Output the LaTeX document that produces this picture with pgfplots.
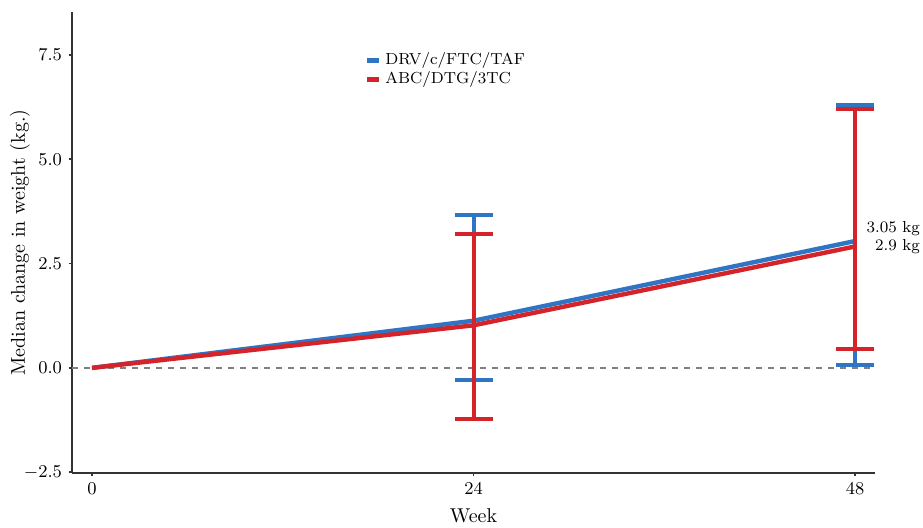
\documentclass[border=0pt]{standalone}
\usepackage{pgfplots}
\pgfplotsset{compat=1.18}
\definecolor{cblue}{RGB}{47,117,196}
\definecolor{cred}{RGB}{212,36,42}
\begin{document}
\begin{tikzpicture}
\begin{axis}[
  scale only axis,
  width=401.5pt, height=230.5pt,
  xmin=-1.26, xmax=49.25,
  ymin=-2.52, ymax=8.53,
  axis lines*=left,
  axis line style={black!80, line width=0.8pt},
  xtick={0,24,48},
  ytick={-2.5,0,2.5,5,7.5},
  yticklabels={$-2.5$,$0.0$,$2.5$,$5.0$,$7.5$},
  tick align=outside,
  major tick length=1.5pt,
  tick style={black!80, line width=0.8pt},
  ticklabel style={font=\small},
  xlabel={Week},
  ylabel={Median change in weight (kg.)},
  xlabel style={at={(axis description cs:0.5,0)}, anchor=center, yshift=-21.5pt},
  ylabel style={at={(axis description cs:0,0.5)}, anchor=center, yshift=26pt},
  clip=false,
  legend style={draw=none, fill=none, font=\footnotesize, at={(rel axis cs:0.361,0.925)}, anchor=north west, row sep=-2pt, inner sep=1pt},
  legend cell align=left,
  legend image code/.code={\draw[#1, line width=2.5pt] (0pt,0pt) -- (6pt,0pt);},
]
\addplot[gray, dashed, line width=0.8pt, forget plot] coordinates {(-1.26,0) (49.25,0)};
% DRV/c/FTC/TAF
\addplot[cblue, line width=2.2pt] coordinates {(0,0) (24,1.13) (48,3.04)};
\addlegendentry{DRV/c/FTC/TAF}
\addplot[draw=none, mark=none, forget plot,
  error bars/.cd, y dir=both, y explicit,
  error bar style={draw=cblue, solid, line width=2pt},
  error mark options={rotate=90, draw=cblue, line width=2pt, mark size=9.5pt}]
  coordinates {
  (24,1.13) += (0,2.54) -= (0,1.43)
  (48,3.04) += (0,3.26) -= (0,2.97)
};
% ABC/DTG/3TC
\addplot[cred, line width=2.2pt] coordinates {(0,0) (24,1.02) (48,2.91)};
\addlegendentry{ABC/DTG/3TC}
\addplot[draw=none, mark=none, forget plot,
  error bars/.cd, y dir=both, y explicit,
  error bar style={draw=cred, solid, line width=2pt},
  error mark options={rotate=90, draw=cred, line width=2pt, mark size=9.5pt}]
  coordinates {
  (24,1.02) += (0,2.18) -= (0,2.24)
  (48,2.91) += (0,3.29) -= (0,2.45)
};
\node[anchor=east, font=\footnotesize, inner sep=0pt] at (axis cs:52.1,3.33) {3.05 kg};
\node[anchor=east, font=\footnotesize, inner sep=0pt] at (axis cs:52.1,2.90) {2.9 kg};
\end{axis}
\pgfresetboundingbox
\path (-36pt,-27pt) rectangle (425.5pt,236.5pt);
\end{tikzpicture}
\end{document}
